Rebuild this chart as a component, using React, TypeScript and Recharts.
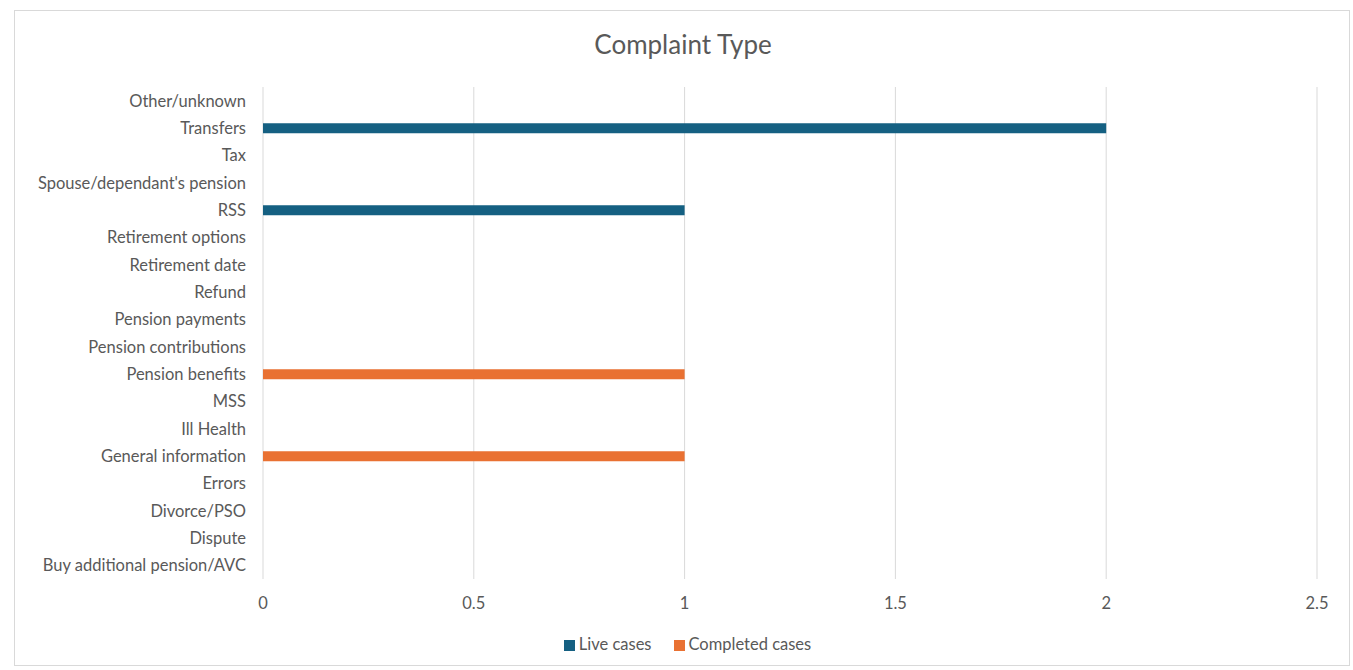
import React from 'react';
import { BarChart, Bar, XAxis, YAxis, CartesianGrid, Legend } from 'recharts';

// categories top-to-bottom as shown on the chart
const categories = [
  'Other/unknown',
  'Transfers',
  'Tax',
  "Spouse/dependant's pension",
  'RSS',
  'Retirement options',
  'Retirement date',
  'Refund',
  'Pension payments',
  'Pension contributions',
  'Pension benefits',
  'MSS',
  'Ill Health',
  'General information',
  'Errors',
  'Divorce/PSO',
  'Dispute',
  'Buy additional pension/AVC',
];

const liveCases = [0, 2, 0, 0, 1, 0, 0, 0, 0, 0, 0, 0, 0, 0, 0, 0, 0, 0];
const completedCases = [0, 0, 0, 0, 0, 0, 0, 0, 0, 0, 1, 0, 0, 1, 0, 0, 0, 0];

const xTicks = [0, 0.5, 1, 1.5, 2, 2.5];

const LIVE = '#156082';
const COMPLETED = '#E97132';
const TEXT = '#595959';
const FONT = 'Lato, "Liberation Sans", sans-serif';

const data = categories.map((name, i) => ({
  name,
  live: liveCases[i],
  completed: completedCases[i],
}));

export default function App() {
  return (
    <div style={{ position: 'absolute', left: 0, top: 0, width: 1353, height: 670, background: '#fff', fontFamily: FONT }}>
      <div
        style={{
          position: 'absolute',
          left: 14,
          top: 10,
          width: 1336,
          height: 656,
          border: '1px solid #d9d9d9',
          boxSizing: 'border-box',
        }}
      />
      <div
        style={{
          position: 'absolute',
          left: 0,
          width: 1366,
          top: 28,
          textAlign: 'center',
          fontSize: 26,
          color: TEXT,
        }}
      >
        Complaint Type
      </div>
      <div style={{ position: 'absolute', left: 0, top: 0 }}>
        <BarChart
          width={1353}
          height={670}
          data={data}
          layout="vertical"
          margin={{ top: 87, right: 36, bottom: 21, left: 0 }}
          barSize={10}
        >
          <CartesianGrid horizontal={false} stroke="#d9d9d9" />
          <XAxis
            type="number"
            domain={[0, 2.5]}
            ticks={xTicks}
            axisLine={false}
            tickLine={false}
            tickMargin={12}
            height={50}
            tick={{ fill: TEXT, stroke: 'none', fontSize: 16.5, fontFamily: FONT }}
          />
          <YAxis
            type="category"
            dataKey="name"
            width={263}
            axisLine={false}
            tickLine={false}
            tickMargin={11}
            interval={0}
            tick={{ fill: TEXT, stroke: 'none', fontSize: 16.5, fontFamily: FONT }}
          />
          <Legend
            verticalAlign="bottom"
            iconType="square"
            iconSize={11}
            itemSorter={(item: any) => (item.dataKey === 'live' ? 0 : 1)}
            wrapperStyle={{ left: 22, width: 1353, bottom: 16, fontFamily: FONT, fontSize: 16.5 }}
            formatter={(value) => <span style={{ color: TEXT, marginRight: 12 }}>{value}</span>}
          />
          <Bar dataKey="live" name="Live cases" stackId="a" fill={LIVE} isAnimationActive={false} />
          <Bar dataKey="completed" name="Completed cases" stackId="a" fill={COMPLETED} isAnimationActive={false} />
        </BarChart>
      </div>
    </div>
  );
}
